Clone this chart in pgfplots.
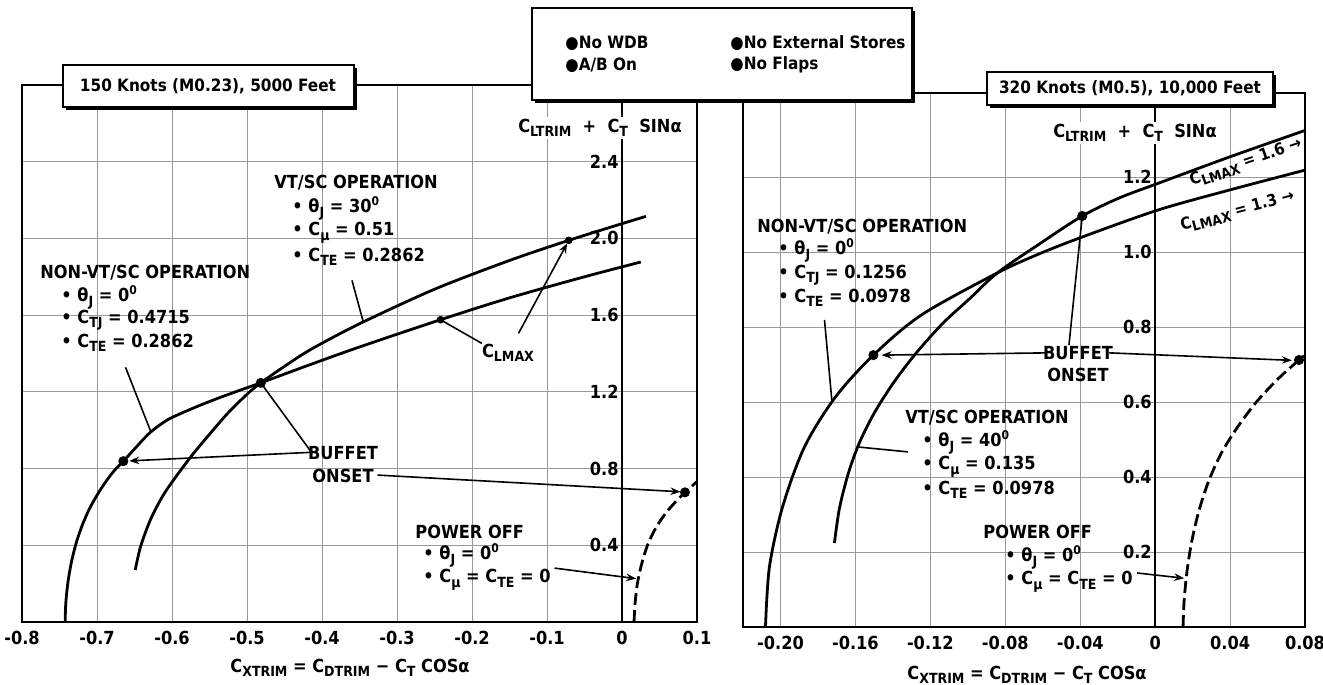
\documentclass[border=0pt]{standalone}
\usepackage{pgfplots}
\pgfplotsset{compat=1.18}
\usepackage{fontspec}
\setmainfont{DejaVu Sans Condensed}
\usetikzlibrary{arrows.meta}
\newcommand{\sub}[1]{\raisebox{-0.45ex}{\scriptsize\bfseries #1}}
\newcommand{\px}[2]{({(#1)*0.5pt},{(685-(#2))*0.5pt})}
\newcommand{\af}{\fontsize{9}{10}\selectfont\bfseries}
\newcommand{\cf}{\fontsize{8.2}{10}\selectfont\bfseries}
\newcommand{\bxf}{\fontsize{8.5}{10}\selectfont\bfseries}
\newcommand{\tf}{\fontsize{9}{10}\selectfont\bfseries}
\begin{document}
\begin{tikzpicture}
\useasboundingbox (0,0) rectangle (661.5pt,342.5pt);
% ---------------- LEFT PANEL ----------------
\begin{axis}[
  at={(11pt,31.5pt)}, anchor=south west, scale only axis,
  width=337.5pt, height=268.5pt,
  xmin=-0.8, xmax=0.1, ymin=0, ymax=2.8,
  xtick={-0.8,-0.7,-0.6,-0.5,-0.4,-0.3,-0.2,-0.1,0,0.1},
  xticklabels={-0.8,-0.7,-0.6,-0.5,-0.4,-0.3,-0.2,-0.1,0,0.1},
  ytick={0.4,0.8,1.2,1.6,2.0,2.4}, yticklabels={},
  grid=major, grid style={black!40, line width=0.4pt},
  major tick length=0pt,
  axis line style={line width=1.1pt},
  xticklabel style={font=\tf, yshift=-1pt},
  clip=false,
]
\draw[line width=1.1pt] (axis cs:0,0) -- (axis cs:0,2.8);
\node[anchor=east, font=\tf, inner sep=1.5pt] at (axis cs:0,0.4) {0.4};
\node[anchor=east, font=\tf, inner sep=1.5pt] at (axis cs:0,0.8) {0.8};
\node[anchor=east, font=\tf, inner sep=1.5pt] at (axis cs:0,1.2) {1.2};
\node[anchor=east, font=\tf, inner sep=1.5pt] at (axis cs:0,1.6) {1.6};
\node[anchor=east, font=\tf, inner sep=1.5pt] at (axis cs:0,2.0) {2.0};
\node[anchor=east, font=\tf, inner sep=1.5pt] at (axis cs:0,2.4) {2.4};
% NON-VT/SC (outer curve, then lower line)
\addplot[line width=1.4pt, smooth, tension=0.5] coordinates {
(-0.7425,0) (-0.7415,0.104) (-0.7387,0.208) (-0.7341,0.3125) (-0.7274,0.4167) (-0.7191,0.5104)
(-0.7096,0.5938) (-0.6991,0.6667) (-0.6887,0.7292) (-0.6776,0.7865) (-0.6649,0.8385)
(-0.6479,0.911) (-0.6317,0.979) (-0.6174,1.024) (-0.602,1.0625) (-0.5712,1.116) (-0.5405,1.164)
(-0.5097,1.208) (-0.4816,1.247)
(-0.42,1.336) (-0.35,1.434) (-0.242,1.576) (-0.15,1.69) (-0.05,1.80) (0.025,1.877)};
% VT/SC (inner curve, then upper line)
\addplot[line width=1.4pt, smooth, tension=0.5] coordinates {
(-0.649,0.271) (-0.642,0.392) (-0.629,0.531) (-0.613,0.653) (-0.598,0.740) (-0.575,0.861)
(-0.553,0.965) (-0.526,1.087) (-0.499,1.191) (-0.4816,1.247) (-0.45,1.333) (-0.415,1.421)
(-0.35,1.555) (-0.25,1.735) (-0.15,1.885) (-0.071,1.99) (0.0,2.077) (0.032,2.115)};
% Power off (dashed)
\addplot[line width=1.4pt, smooth, tension=0.5, dash pattern=on 6pt off 2.5pt] coordinates {
(0.016,0) (0.0175,0.10) (0.0205,0.20) (0.026,0.30) (0.034,0.40) (0.045,0.49)
(0.058,0.566) (0.071,0.625) (0.084,0.676) (0.100,0.732)};
% buffet onset points
\addplot[only marks, mark=*, mark size=2.3pt] coordinates {(-0.6649,0.8385) (-0.4816,1.247) (0.084,0.676)};
% CLmax points
\addplot[only marks, mark=*, mark size=1.7pt] coordinates {(-0.071,1.99) (-0.242,1.576)};
% pointers
\draw[line width=0.8pt] (axis cs:-0.360,1.781) -- (axis cs:-0.345,1.565);
\draw[line width=0.8pt] (axis cs:-0.662,1.328) -- (axis cs:-0.628,0.99);
\draw[line width=0.8pt] (axis cs:-0.187,1.453) -- (axis cs:-0.242,1.576);
\draw[line width=0.8pt, -{Stealth[length=5pt]}] (axis cs:-0.138,1.505) -- (axis cs:-0.073,1.975);
\draw[line width=0.8pt, -{Stealth[length=5pt]}] (axis cs:-0.413,0.885) -- (axis cs:-0.657,0.84);
\draw[line width=0.8pt] (axis cs:-0.415,0.89) -- (axis cs:-0.4816,1.247);
\draw[line width=0.8pt, -{Stealth[length=5pt]}] (axis cs:-0.326,0.766) -- (axis cs:0.078,0.679);
\draw[line width=0.8pt, -{Stealth[length=5pt]}] (axis cs:-0.090,0.281) -- (axis cs:0.019,0.226);
\end{axis}
% ---------------- RIGHT PANEL ----------------
\begin{axis}[
  at={(371.5pt,29pt)}, anchor=south west, scale only axis,
  width=281pt, height=267pt,
  xmin=-0.22, xmax=0.08, ymin=0, ymax=1.424,
  xtick={-0.20,-0.16,-0.12,-0.08,-0.04,0,0.04,0.08},
  xticklabels={-0.20,-0.16,-0.12,-0.08,-0.04,0,0.04,0.08},
  ytick={0.2,0.4,0.6,0.8,1.0,1.2}, yticklabels={},
  grid=major, grid style={black!40, line width=0.4pt},
  major tick length=0pt,
  axis line style={line width=1.1pt},
  xticklabel style={font=\tf, yshift=-1pt},
  clip=false,
]
\draw[line width=1.1pt] (axis cs:0,0) -- (axis cs:0,1.424);
\node[anchor=east, font=\tf, inner sep=1.5pt] at (axis cs:0,0.2) {0.2};
\node[anchor=east, font=\tf, inner sep=1.5pt] at (axis cs:0,0.4) {0.4};
\node[anchor=east, font=\tf, inner sep=1.5pt] at (axis cs:0,0.6) {0.6};
\node[anchor=east, font=\tf, inner sep=1.5pt] at (axis cs:0,0.8) {0.8};
\node[anchor=east, font=\tf, inner sep=1.5pt] at (axis cs:0,1.0) {1.0};
\node[anchor=east, font=\tf, inner sep=1.5pt] at (axis cs:0,1.2) {1.2};
% NON-VT/SC (outer, then lower line CLmax 1.3)
\addplot[line width=1.4pt, smooth, tension=0.5] coordinates {
(-0.208,0) (-0.2059,0.16) (-0.1989,0.32) (-0.1872,0.48) (-0.1707,0.613) (-0.1504,0.725)
(-0.1248,0.832) (-0.0843,0.944) (-0.0619,0.995) (-0.0389,1.04) (0.0016,1.112)
(0.0395,1.165) (0.0805,1.219)};
% VT/SC (inner, then upper line CLmax 1.6)
\addplot[line width=1.4pt, smooth, tension=0.5] coordinates {
(-0.1712,0.224) (-0.1685,0.317) (-0.1637,0.411) (-0.1579,0.491) (-0.1499,0.571)
(-0.1397,0.651) (-0.1275,0.731) (-0.1131,0.811) (-0.0987,0.877) (-0.0843,0.944)
(-0.0619,1.021) (-0.0389,1.096) (-0.0192,1.144) (0.0021,1.184) (0.0395,1.253) (0.0805,1.325)};
% power off
\addplot[line width=1.4pt, smooth, tension=0.5, dash pattern=on 6pt off 2.5pt] coordinates {
(0.0149,0) (0.0155,0.072) (0.0171,0.152) (0.0197,0.232) (0.0235,0.312) (0.0288,0.392)
(0.0357,0.467) (0.0448,0.539) (0.0549,0.605) (0.0661,0.664) (0.0768,0.712) (0.0795,0.723)};
\addplot[only marks, mark=*, mark size=2.3pt] coordinates {(-0.1504,0.725) (-0.0389,1.096) (0.0768,0.712)};
% pointers
\draw[line width=0.8pt] (axis cs:-0.1765,0.819) -- (axis cs:-0.1725,0.60);
\draw[line width=0.8pt] (axis cs:-0.132,0.467) -- (axis cs:-0.1585,0.48);
\draw[line width=0.8pt, -{Stealth[length=5pt]}] (axis cs:-0.058,0.731) -- (axis cs:-0.146,0.725);
\draw[line width=0.8pt] (axis cs:-0.046,0.752) -- (axis cs:-0.0389,1.096);
\draw[line width=0.8pt, -{Stealth[length=5pt]}] (axis cs:-0.0245,0.731) -- (axis cs:0.073,0.711);
\draw[line width=0.8pt, -{Stealth[length=5pt]}] (axis cs:-0.0096,0.144) -- (axis cs:0.0155,0.13);
% CLmax labels
\node[font=\cf, rotate=19, inner sep=0pt] at (axis cs:0.0485,1.238) {C\sub{LMAX} = 1.6 →};
\node[font=\cf, rotate=15, inner sep=0pt] at (axis cs:0.044,1.108) {C\sub{LMAX} = 1.3 →};
\end{axis}
% ---------------- ANNOTATIONS ----------------
\begin{scope}[every node/.style={font=\af, inner sep=0pt}]
% left
\node[anchor=west] at \px{274}{183} {VT/SC OPERATION};
\node[anchor=west] at \px{292}{208} {• θ\sub{J} = 30\textsuperscript{0}};
\node[anchor=west] at \px{292}{233} {• C\sub{μ} = 0.51};
\node[anchor=west] at \px{292}{257} {• C\sub{TE} = 0.2862};
\node[anchor=west] at \px{40}{273} {NON-VT/SC OPERATION};
\node[anchor=west] at \px{61}{297} {• θ\sub{J} = 0\textsuperscript{0}};
\node[anchor=west] at \px{61}{320} {• C\sub{TJ} = 0.4715};
\node[anchor=west] at \px{61}{343} {• C\sub{TE} = 0.2862};
\node[anchor=west] at \px{415}{532} {POWER OFF};
\node[anchor=west] at \px{423}{555} {• θ\sub{J} = 0\textsuperscript{0}};
\node[anchor=west] at \px{423}{580} {• C\sub{μ} = C\sub{TE} = 0};
\node at \px{343}{453} {BUFFET};
\node at \px{343}{476} {ONSET};
\node at \px{508}{353} {C\sub{LMAX}};
\node[fill=white, inner sep=1pt] at \px{600}{128} {C\sub{LTRIM}\ \ +\ \ C\sub{T}\ \ SINα};
\node at \px{350}{668} {C\sub{XTRIM} = C\sub{DTRIM} − C\sub{T} COSα};
% right
\node[anchor=west] at \px{757}{227} {NON-VT/SC OPERATION};
\node[anchor=west] at \px{778}{250} {• θ\sub{J} = 0\textsuperscript{0}};
\node[anchor=west] at \px{778}{275} {• C\sub{TJ} = 0.1256};
\node[anchor=west] at \px{778}{298} {• C\sub{TE} = 0.0978};
\node[anchor=west] at \px{905}{418} {VT/SC OPERATION};
\node[anchor=west] at \px{922}{442} {• θ\sub{J} = 40\textsuperscript{0}};
\node[anchor=west] at \px{922}{467} {• C\sub{μ} = 0.135};
\node[anchor=west] at \px{922}{490} {• C\sub{TE} = 0.0978};
\node[anchor=west] at \px{983}{532} {POWER OFF};
\node[anchor=west] at \px{1005}{557} {• θ\sub{J} = 0\textsuperscript{0}};
\node[anchor=west] at \px{1005}{582} {• C\sub{μ} = C\sub{TE} = 0};
\node at \px{1078}{353} {BUFFET};
\node at \px{1078}{375} {ONSET};
\node[fill=white, inner sep=1pt] at \px{1135}{133} {C\sub{LTRIM}\ \ +\ \ C\sub{T}\ \ SINα};
\node at \px{1027}{675} {C\sub{XTRIM} = C\sub{DTRIM} − C\sub{T} COSα};
% boxes
\fill[black] \px{66}{68} rectangle \px{357}{110};
\draw[fill=white, line width=0.9pt] \px{63}{65} rectangle \px{354}{107};
\node[font=\bxf] at \px{208}{86} {150 Knots (M0.23), 5000 Feet};
\fill[black] \px{535}{11} rectangle \px{915}{103};
\draw[fill=white, line width=0.9pt] \px{532}{8} rectangle \px{912}{100};
\node[anchor=west, font=\bxf] at \px{565}{43} {●No WDB};
\node[anchor=west, font=\bxf] at \px{565}{65} {●A/B On};
\node[anchor=west, font=\bxf] at \px{730}{43} {●No External Stores};
\node[anchor=west, font=\bxf] at \px{730}{65} {●No Flaps};
\fill[black] \px{990}{75} rectangle \px{1276}{108};
\draw[fill=white, line width=0.9pt] \px{987}{72} rectangle \px{1273}{105};
\node[font=\bxf] at \px{1130}{88} {320 Knots (M0.5), 10,000 Feet};
\end{scope}
\end{tikzpicture}
\end{document}
